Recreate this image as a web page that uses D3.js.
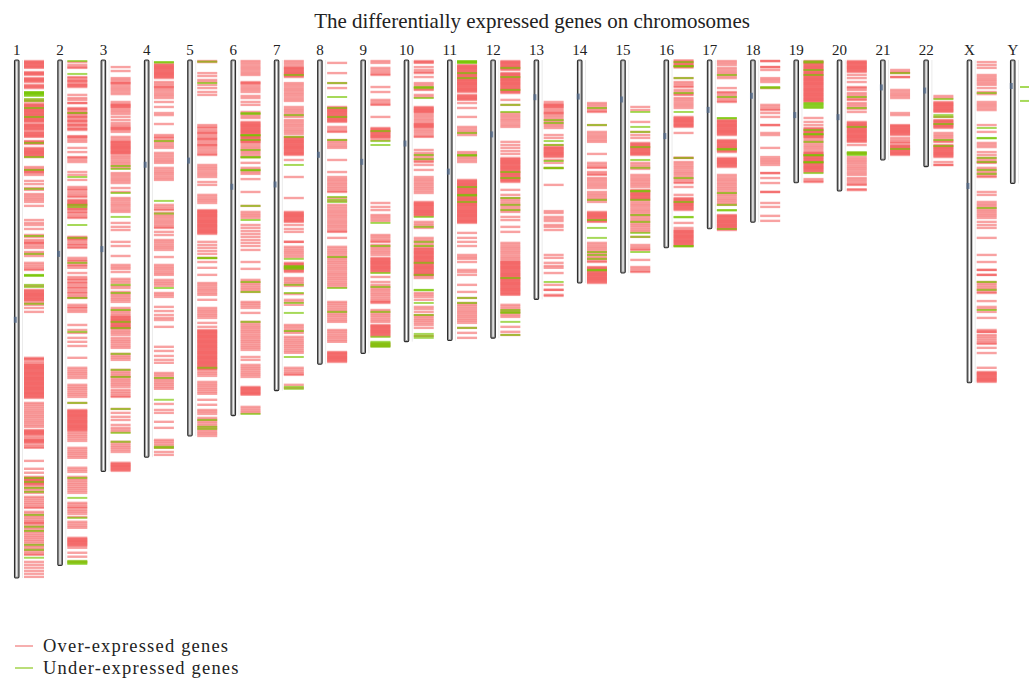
<!DOCTYPE html>
<html>
<head>
<meta charset="utf-8">
<script src="https://cdn.jsdelivr.net/npm/d3@7"></script>
<style>
  html, body { margin: 0; padding: 0; background: #fff; }
  svg { display: block; }
</style>
</head>
<body>
<svg id="chart" width="1029" height="679"></svg>
<script>
// Human chromosomes (hg19), lengths and centromere positions in Mb
const chromosomes = ["1","2","3","4","5","6","7","8","9","10","11","12","13","14","15","16","17","18","19","20","21","22","X","Y"];
const chromLengths = [249.25,243.2,198.0,191.15,180.9,171.1,159.1,146.4,141.2,135.5,135.0,133.85,115.2,107.3,102.5,90.35,81.2,78.1,59.1,63.0,48.1,51.3,155.3,59.4];
const centromeres = [125,93.3,91,50.4,48.4,61,59.9,45.6,49,40.2,53.7,35.8,17.9,17.6,19,36.6,24,17.2,26.5,27.5,13.2,14.7,60.6,12.5];

// Positions (Mb) of over-expressed genes, one list per chromosome
const overExpressed = [
  // 1
  [0.5,1.0,1.4,1.9,2.4,2.9,3.4,3.8,5.8,6.3,6.7,7.2,8.7,9.2,9.6,10.1,10.6,12.0,12.5,13.0,13.5,19.2,20.0,
   21.2,21.6,22.1,22.6,23.1,23.6,24.1,24.5,25.0,25.5,26.0,26.5,26.9,27.4,27.9,28.4,28.9,29.3,29.8,
   30.8,31.3,31.7,32.2,32.7,33.2,33.7,34.6,35.1,35.6,36.1,36.6,37.0,39.0,39.4,39.9,40.4,
   42.3,42.8,43.3,43.8,44.3,44.7,45.2,45.7,46.2,46.7,51.5,52.4,52.9,53.4,53.9,54.4,55.3,58.2,59.7,61.6,62.5,
   64.5,65.4,66.4,67.3,68.3,70.2,77.0,78.4,79.4,81.3,84.2,85.1,86.6,87.5,88.0,88.5,89.5,90.4,92.4,93.3,94.3,
   97.6,98.6,99.6,100.5,101.0,108.7,110.6,111.1,111.6,112.1,112.6,113.0,113.5,114.0,114.5,115.0,115.4,116.0,116.9,117.8,119.3,121.2,
   143.3,143.8,144.3,145.3,146.2,146.7,147.2,147.7,148.1,148.6,149.1,149.6,150.1,150.6,151.0,151.5,152.0,152.5,153.0,153.4,
   153.9,154.4,154.9,155.4,155.8,156.3,156.8,157.3,157.8,158.2,158.7,159.2,159.7,160.2,160.6,161.1,161.6,162.1,162.6,
   165.0,165.9,166.9,167.9,168.9,169.8,170.8,171.7,172.7,173.7,174.6,175.6,176.5,
   178.0,178.5,179.0,179.4,179.9,180.4,181.3,182.3,182.8,183.3,183.7,184.2,185.2,186.1,186.6,192.9,196.7,198.6,
   200.6,201.1,201.6,202.0,202.5,203.0,203.5,204.0,204.4,205.4,206.3,207.3,208.3,210.2,211.1,212.1,213.1,214.0,215.0,215.5,
   217.4,218.4,219.4,220.3,221.3,222.2,222.7,223.2,224.2,225.1,226.1,227.0,228.0,229.0,229.9,230.9,231.8,232.8,233.8,234.7,235.7,236.6,237.6,238.1,
   241.5,242.9,244.3,245.8,247.2,248.7],
  // 2
  [1.0,2.4,3.4,3.8,8.2,8.7,9.6,10.1,10.6,11.5,12.0,12.5,13.0,16.8,18.3,19.2,20.7,20.7,
   23.1,23.6,24.1,25.0,25.5,26.0,26.9,27.4,27.9,28.9,29.3,29.8,30.8,31.3,31.7,32.7,33.2,33.7,36.6,37.0,37.5,38.5,39.4,
   42.3,44.3,46.7,47.1,48.1,49.1,53.9,55.3,57.7,61.1,62.0,62.5,63.5,64.5,65.4,65.9,
   67.3,67.8,68.3,68.8,69.3,69.7,70.2,71.2,71.7,72.2,73.1,73.6,74.6,75.5,76.0,
   85.1,85.6,86.1,86.6,87.5,88.5,89.0,89.9,90.4,95.2,96.2,96.7,97.6,98.6,99.1,100.0,102.5,104.4,
   105.3,105.8,106.8,107.3,108.2,109.2,109.7,110.6,111.6,112.1,113.0,114.0,114.5,117.8,118.8,119.3,120.3,121.2,
   127.5,129.9,131.3,133.7,135.6,137.6,143.3,148.1,149.1,150.1,151.0,152.0,153.0,156.3,157.3,158.2,159.2,160.2,161.1,162.1,165.0,
   168.4,168.9,169.3,169.8,170.3,170.8,171.2,171.7,172.2,172.7,173.2,173.7,174.1,174.6,175.1,175.6,176.1,176.5,177.0,177.5,178.0,178.5,179.4,180.4,181.3,182.3,183.3,
   186.6,187.6,188.6,189.5,190.5,191.4,196.2,197.2,198.2,200.6,201.6,202.5,203.5,204.4,205.4,206.3,207.3,208.3,
   213.1,214.0,215.0,215.5,216.5,217.4,218.4,219.9,222.2,223.2,224.2,225.1,
   229.9,230.4,230.9,231.4,231.8,232.3,232.8,233.3,233.8,234.7,237.1,239.0,241.5],
  // 3
  [3.4,5.3,8.7,9.6,10.6,11.1,11.5,12.5,13.5,14.4,15.4,16.4,20.2,21.2,21.6,22.1,22.6,23.1,24.1,25.0,26.0,27.4,28.9,30.3,31.3,32.2,32.7,33.2,33.7,34.6,
   37.0,38.0,39.0,39.4,39.9,40.4,40.9,41.4,41.9,42.3,42.8,43.3,43.8,44.3,44.7,45.2,46.2,47.1,48.1,49.1,50.0,51.0,52.0,
   54.4,55.3,56.3,57.3,58.2,59.2,61.6,63.5,66.4,67.3,68.3,69.3,70.2,71.2,72.2,73.1,78.4,80.3,81.8,87.5,89.5,94.3,
   98.6,99.6,100.5,102.0,105.3,106.3,107.3,108.7,109.7,111.6,112.6,113.5,114.5,115.4,116.4,119.3,120.3,121.2,122.2,123.1,
   123.6,124.1,124.6,125.1,125.5,126.0,126.5,127.0,127.5,128.0,128.4,128.9,129.4,130.4,131.3,132.3,
   133.7,134.7,135.6,136.6,137.6,138.5,141.4,142.4,143.3,144.3,149.1,150.1,151.0,152.0,152.5,153.5,154.4,155.4,156.3,157.3,
   158.7,159.7,160.6,161.6,162.1,167.9,169.8,171.7,173.2,175.6,177.0,178.0,179.0,183.7,184.7,185.7,186.6,187.6,188.6,
   193.8,194.3,194.8,195.3,195.7,196.2,196.7,197.2,197.7],
  // 4
  [1.9,2.4,2.9,3.4,3.8,4.3,4.8,5.3,5.8,6.3,6.7,7.2,7.7,8.2,8.7,10.6,11.5,12.5,13.0,13.5,14.4,15.4,16.4,17.3,18.3,20.2,22.6,25.5,26.5,30.8,
   36.1,37.0,37.5,38.5,39.4,40.4,41.4,42.3,44.7,45.7,46.7,47.7,48.6,49.5,51.9,52.9,53.9,54.8,55.8,56.8,57.7,
   69.7,70.7,71.7,72.2,73.6,74.6,75.5,76.5,77.5,78.4,79.4,80.3,80.8,82.7,84.2,86.6,87.5,88.5,89.5,90.4,91.4,94.8,
   98.6,99.6,100.5,101.5,102.5,103.4,105.8,106.8,107.7,108.7,112.1,113.0,114.0,118.8,120.8,122.7,124.1,125.1,128.4,
   138.0,140.0,142.4,144.3,145.7,150.6,151.5,152.5,153.5,154.4,155.4,156.3,157.3,158.2,165.5,168.4,169.8,174.1,177.0,
   182.8,183.7,184.7,185.7,186.6,188.6,190.0],
  // 5
  [0.5,1.0,6.3,7.7,9.6,10.6,12.0,13.5,15.4,16.8,
   31.3,32.2,32.7,33.7,34.6,35.1,35.6,36.6,37.5,38.0,38.5,39.4,40.4,40.9,41.4,42.3,43.3,44.3,45.2,45.7,
   50.5,51.5,52.4,53.4,54.4,55.3,56.3,58.7,60.1,64.9,65.9,66.9,67.8,68.8,
   72.2,72.7,73.1,73.6,74.1,74.6,75.0,75.5,76.0,76.5,77.0,77.5,77.9,78.4,78.9,79.4,79.8,80.3,80.8,81.3,81.8,82.3,82.7,83.2,83.7,
   87.5,89.0,90.4,91.9,93.3,95.2,97.2,100.0,103.4,107.3,108.2,109.2,110.2,111.1,112.1,113.0,115.4,
   119.3,120.3,121.2,122.2,123.1,124.1,126.5,128.4,
   129.9,130.4,130.8,131.3,131.8,132.3,132.8,133.2,133.7,134.2,134.7,135.2,135.6,136.1,136.6,137.1,137.6,138.0,138.5,139.0,
   139.5,140.0,140.5,140.9,141.4,141.9,142.4,142.9,143.3,143.8,144.3,144.8,145.3,145.7,146.2,146.7,147.2,147.7,148.1,148.6,149.1,150.1,151.0,152.0,
   154.9,155.9,156.8,157.8,158.7,159.7,160.6,163.5,165.9,168.4,169.3,170.3,
   172.2,173.2,174.1,175.1,176.1,177.0,178.0,179.0,179.9,180.9],
  // 6
  [0.5,1.4,2.4,3.4,4.3,5.3,6.3,7.2,10.6,11.1,11.5,12.5,13.5,14.4,15.4,17.3,18.3,20.2,21.6,25.0,26.0,27.0,27.9,
   29.8,30.3,30.8,31.3,31.7,32.2,32.7,33.2,33.7,34.2,34.6,35.1,35.6,36.1,36.6,37.0,37.5,38.0,38.5,39.0,39.4,39.9,
   40.9,41.9,42.8,43.8,44.7,45.7,46.7,49.5,51.9,52.9,53.9,54.8,57.3,63.5,70.2,73.1,74.1,75.0,76.0,
   79.4,80.8,82.3,83.7,85.1,86.6,88.0,89.5,91.4,97.2,100.5,105.8,106.8,107.7,108.7,109.7,110.6,111.6,
   116.4,117.3,118.3,119.3,121.7,126.0,127.0,128.0,128.9,129.9,130.8,131.8,132.8,133.7,134.7,135.6,136.6,137.6,138.5,139.5,
   142.9,144.3,146.7,147.7,148.6,149.6,150.6,151.5,152.5,157.3,157.8,158.2,158.7,159.2,159.7,160.2,160.6,161.1,
   166.9,167.9,168.9,169.8],
  // 7
  [0.5,1.4,2.4,3.4,3.8,4.3,4.8,5.3,5.8,6.3,6.7,7.2,7.7,8.2,11.1,12.0,13.0,14.0,14.9,15.9,16.8,17.8,18.8,19.7,
   22.6,23.6,24.5,25.5,26.5,27.4,28.9,29.8,30.8,31.7,32.7,33.7,34.6,35.6,37.0,
   37.5,38.0,38.5,39.0,39.4,39.9,40.4,40.9,41.4,41.9,42.3,42.8,43.3,43.8,44.3,44.8,45.2,45.7,48.1,56.3,66.4,
   73.1,73.6,74.1,74.6,75.0,75.5,76.0,76.5,77.0,77.5,77.9,79.4,81.3,82.7,87.5,87.5,89.9,90.9,91.9,92.8,93.8,94.8,
   97.6,98.1,98.6,99.1,99.6,100.0,100.5,101.0,101.5,102.0,104.9,105.8,106.8,107.7,108.7,112.6,115.4,116.4,117.8,
   127.5,128.4,129.4,130.4,131.3,133.2,134.2,135.2,136.1,137.1,138.0,139.0,140.0,140.9,148.1,149.1,150.1,151.0,151.5,156.3,157.8],
  // 8
  [1.4,6.3,11.1,13.5,22.6,23.1,23.6,24.1,24.5,25.0,25.5,26.0,26.5,27.0,27.4,27.9,28.4,28.9,29.3,29.8,32.2,33.2,34.2,34.6,
   38.5,39.4,40.4,41.4,42.3,48.1,53.9,56.3,57.3,58.2,59.2,60.1,61.1,62.0,63.0,63.5,66.4,67.8,
   69.7,70.7,71.7,72.7,73.6,74.6,75.5,76.5,77.5,78.4,79.4,80.3,81.3,82.3,82.7,85.6,
   89.9,90.9,91.9,92.8,93.8,94.8,95.7,96.7,97.6,98.6,99.6,100.5,101.5,102.5,103.4,104.4,105.3,106.3,107.3,108.2,109.2,
   116.4,117.3,118.3,119.3,120.3,121.2,122.2,123.1,124.1,125.1,126.0,129.9,130.8,131.8,132.8,133.7,134.7,135.6,
   140.5,140.9,141.4,141.9,142.4,142.9,143.3,143.8,144.3,144.8,145.3],
  // 9
  [0.5,1.4,3.8,4.8,5.8,6.7,7.2,13.0,15.4,19.2,20.2,21.2,21.6,27.4,32.7,33.2,33.7,34.2,34.6,35.1,35.6,36.1,36.6,37.0,37.5,38.5,
   68.8,70.7,72.2,74.6,75.5,76.5,77.5,84.2,85.1,86.1,87.1,87.5,89.0,90.0,90.9,91.9,92.8,93.8,
   95.2,95.7,96.2,96.7,97.2,97.6,98.1,98.6,99.1,99.6,100.0,100.5,101.0,101.5,102.0,104.4,106.8,
   108.2,109.2,110.2,111.1,112.1,113.0,114.0,115.0,115.9,116.4,116.9,120.3,121.2,122.2,123.1,124.1,125.1,126.0,
   127.5,128.0,128.4,128.9,129.4,129.9,130.4,130.8,131.3,131.8,132.3,132.8,136.6,137.6],
  // 10
  [0.5,1.0,1.4,3.4,4.8,5.8,6.3,8.2,11.1,12.0,13.0,14.0,14.4,16.8,17.8,
   22.6,23.1,23.6,24.1,24.5,25.0,25.5,26.5,27.4,28.4,29.3,30.3,30.8,31.3,31.7,32.2,32.7,33.7,34.6,35.6,36.6,37.0,
   43.3,44.7,45.7,46.7,47.7,48.6,49.1,50.5,52.9,56.3,57.3,58.2,59.2,60.1,61.1,62.0,63.0,64.0,
   68.3,68.8,69.3,69.7,70.2,70.7,71.2,71.7,72.2,72.7,73.1,73.6,74.1,74.6,75.0,77.9,78.9,79.8,80.8,85.6,86.6,87.5,88.5,89.5,
   90.4,90.9,91.4,91.9,92.4,92.8,93.3,93.8,94.3,94.8,95.2,95.7,96.2,96.7,97.2,97.6,98.1,98.6,99.1,99.6,100.0,100.5,101.0,101.5,102.0,102.5,103.0,103.4,103.9,104.9,
   112.1,113.0,114.0,115.4,118.8,119.8,121.2,122.7,123.6,124.6,125.5,126.5,127.5,128.9,132.8],
  // 11
  [2.4,2.9,3.4,3.8,4.3,4.8,5.3,5.8,6.3,6.7,7.2,7.7,8.2,8.7,9.2,9.6,10.1,10.6,11.1,11.5,12.0,12.5,13.0,13.5,14.0,14.4,14.9,15.4,
   16.8,17.3,17.8,18.3,18.8,19.2,20.7,23.1,27.4,32.2,33.2,34.2,35.1,36.1,44.3,45.2,46.2,47.1,48.1,49.1,
   57.7,58.2,58.7,59.2,59.7,60.1,60.6,61.1,61.6,62.0,62.5,63.0,63.5,64.0,64.5,64.9,65.4,65.9,66.4,66.9,67.3,67.8,
   68.3,68.8,69.3,69.7,70.2,70.7,71.2,71.7,72.2,72.7,73.1,73.6,74.1,74.6,75.0,75.5,76.0,76.5,77.0,77.5,77.9,78.4,
   83.2,85.6,87.5,89.5,93.8,94.8,95.7,97.2,101.0,102.0,103.4,108.2,111.6,114.5,
   116.9,117.8,118.8,119.8,120.8,121.7,122.7,123.6,124.6,125.5,126.5,128.9,131.3,133.7],
  // 12
  [0.5,1.0,1.4,1.9,2.4,2.9,3.4,3.8,4.3,4.8,6.3,6.7,7.2,7.7,8.2,8.7,9.2,9.6,10.1,10.6,11.1,11.5,12.0,12.5,13.0,13.5,14.0,14.4,14.9,15.4,15.9,
   19.2,21.6,25.5,26.5,27.4,28.4,29.3,30.3,31.3,32.2,39.4,40.9,42.3,43.8,45.2,
   47.1,47.7,48.1,48.6,49.1,49.5,50.0,50.5,51.0,51.5,51.9,52.4,52.9,53.4,53.9,54.4,54.8,55.3,55.8,56.3,56.8,57.3,57.7,58.2,58.7,
   62.5,64.9,66.4,67.3,68.3,69.3,70.2,71.2,72.2,73.1,75.5,77.0,80.3,82.7,
   88.0,89.0,90.0,90.9,91.9,92.8,93.8,94.8,95.7,96.7,97.2,
   97.6,98.1,98.6,99.1,99.6,100.0,100.5,101.0,101.5,102.0,102.5,103.0,103.4,103.9,104.4,104.9,105.3,105.8,106.3,106.8,107.3,107.7,
   108.2,108.7,109.2,109.7,110.2,110.6,111.1,111.6,112.1,112.6,113.0,117.8,118.8,119.8,120.8,121.7,122.7,123.6,128.4,130.8,132.3],
  // 13
  [20.2,21.2,21.6,22.1,22.6,23.1,24.1,25.0,25.5,26.0,26.9,27.9,28.9,29.8,30.8,31.7,32.7,36.1,37.5,40.9,
   41.9,42.3,42.8,43.3,43.8,44.3,44.8,45.2,45.7,46.2,46.7,48.1,49.5,51.9,60.1,
   72.7,73.6,75.5,76.5,77.5,79.4,80.3,81.8,93.8,95.2,97.6,99.1,100.0,102.5,108.2,110.6,110.6,113.0,113.5],
  // 14
  [20.7,21.6,22.6,23.6,24.5,25.0,31.3,34.6,35.6,36.6,37.5,38.5,39.4,45.2,49.5,50.5,51.5,51.9,53.9,54.8,55.3,
   56.8,57.7,58.7,59.7,60.6,61.6,63.5,64.5,65.4,66.4,67.3,68.3,73.1,73.6,74.1,74.6,75.0,75.5,76.0,76.5,77.0,77.5,77.9,
   88.0,89.0,90.0,90.9,91.9,92.8,93.8,94.8,95.7,96.7,97.2,
   99.6,100.0,100.5,101.0,101.5,102.0,102.5,103.0,103.4,103.9,104.4,104.9,105.3,105.8,106.3,106.8,107.3],
  // 15
  [22.6,24.1,29.8,34.6,36.1,37.5,39.9,40.4,40.9,41.4,41.9,42.3,42.8,43.3,43.8,44.3,44.8,45.2,45.7,49.5,50.5,51.5,52.4,
   55.3,56.3,57.3,58.2,59.2,60.1,61.1,62.5,63.0,63.5,64.0,64.5,64.9,65.4,65.9,66.4,66.9,67.3,68.3,
   69.3,70.2,71.2,72.2,73.1,74.1,75.0,76.0,77.0,77.9,78.9,79.8,80.8,81.8,82.7,85.1,89.0,90.0,90.9,91.4,96.2,99.6,100.5,101.5,102.0],
  // 16
  [0.2,0.7,1.2,1.7,2.2,2.7,3.2,3.6,8.7,10.6,11.5,12.5,13.0,14.4,15.4,16.4,16.8,18.3,19.2,20.2,21.2,22.1,23.1,
   27.4,27.9,28.4,28.9,29.3,29.8,30.3,30.8,31.3,31.7,32.2,35.1,47.1,47.1,
   49.1,50.0,51.0,51.9,52.9,53.9,54.8,55.8,56.8,57.7,58.7,59.2,61.1,64.9,
   66.4,66.9,67.3,67.8,68.3,68.8,69.3,69.7,70.2,70.7,71.2,71.7,72.2,78.4,80.8,
   81.8,82.3,82.7,83.2,83.7,84.2,84.7,85.1,85.6,86.1,86.6,87.1,87.5,88.0,88.5,89.0,89.5],
  // 17
  [0.5,1.4,2.4,3.8,4.8,5.8,6.7,7.7,8.7,13.5,15.4,15.9,16.8,17.8,18.8,19.7,20.2,
   28.9,29.3,29.8,30.3,30.8,31.3,31.7,32.2,32.7,33.2,33.7,34.2,34.6,35.1,35.6,36.1,
   38.5,39.0,39.4,39.9,40.4,40.9,41.4,41.9,42.3,42.8,43.3,43.8,44.3,47.1,47.7,48.1,48.6,49.1,49.5,50.0,50.5,51.0,51.5,
   55.3,56.3,57.3,58.2,59.2,60.1,61.1,62.0,63.0,64.0,64.9,65.9,66.9,67.8,68.8,69.7,
   74.6,75.0,75.5,76.0,76.5,77.0,77.5,77.9,78.4,78.9,79.4,79.8,80.3,80.8,81.3,81.8],
  // 18
  [0.5,0.5,3.4,3.4,4.8,8.7,9.6,10.6,13.5,21.6,22.6,23.6,24.1,25.5,27.4,31.3,31.3,35.1,36.1,42.3,46.7,47.7,48.6,49.5,50.5,
   54.4,54.4,56.8,59.2,63.5,63.5,68.8,70.7,75.0,77.4],
  // 19
  [0.5,1.0,1.4,1.9,2.4,2.9,3.4,3.8,4.3,4.8,5.3,5.8,6.3,6.7,7.2,7.7,8.2,8.7,9.2,9.6,10.1,10.6,11.1,11.5,12.0,12.5,13.0,13.5,14.0,14.4,
   14.9,15.4,15.9,16.4,16.8,17.3,17.8,18.3,18.8,19.2,19.7,20.2,27.9,29.8,31.3,
   32.7,33.2,33.7,34.2,34.6,35.1,35.6,36.1,36.6,37.0,37.5,38.5,39.4,40.4,41.4,42.3,43.3,44.3,
   44.7,45.2,45.7,46.2,46.7,47.1,47.7,48.1,48.6,49.1,49.5,50.0,50.5,51.0,51.5,51.9,52.4,52.9,53.4,53.9,57.3,58.2,58.7],
  // 20
  [0.5,1.0,1.4,1.9,2.4,2.9,3.4,3.8,4.3,4.8,5.3,5.8,7.2,8.7,10.6,13.0,13.5,14.4,15.9,16.8,17.8,18.8,19.2,20.7,21.6,22.6,23.6,25.0,
   29.8,30.3,30.8,31.3,31.7,32.2,32.7,33.2,33.7,34.2,34.6,35.1,35.6,36.1,36.6,37.0,37.5,38.0,38.5,39.0,39.4,40.9,44.8,
   46.7,47.7,48.6,49.5,50.5,51.5,52.4,53.4,54.4,55.3,56.8,57.7,58.7,59.7,60.1,62.2,62.6],
  // 21
  [4.8,5.8,6.3,8.2,8.2,14.4,15.4,16.4,17.3,18.3,25.5,26.5,31.3,31.7,32.2,32.7,33.2,33.7,34.2,34.6,35.1,35.6,36.1,
   37.5,38.5,39.4,39.9,40.9,41.4,41.9,42.3,42.8,43.3,43.8,44.3,44.8,45.2,45.7],
  // 22
  [17.3,18.3,20.2,20.7,21.2,21.6,22.1,22.6,23.1,23.6,24.1,24.5,25.0,27.4,28.9,29.3,29.8,30.3,30.8,31.3,31.7,32.2,32.7,
   35.1,36.1,37.0,38.0,39.0,39.4,40.9,41.4,41.9,42.3,42.8,43.3,43.8,44.3,44.8,45.2,45.7,46.2,46.7,49.1,50.5,50.5],
  // X
  [1.0,2.4,3.8,7.2,8.2,9.2,10.1,11.1,12.0,13.5,15.4,16.4,20.2,21.2,22.1,23.1,24.1,31.3,34.6,39.9,40.9,41.9,44.3,45.7,
   47.1,48.1,49.1,49.5,51.9,52.9,53.9,54.8,55.8,56.3,63.5,64.9,68.3,69.3,70.2,71.2,72.2,73.1,74.1,75.0,76.0,77.9,79.4,80.8,
   85.6,93.8,97.2,101.0,101.0,103.4,103.4,106.8,107.7,108.7,109.7,110.6,111.6,112.1,116.0,118.8,119.8,121.2,124.1,
   129.9,130.8,130.8,132.3,133.2,134.2,135.2,136.1,136.6,138.5,141.0,148.1,150.1,
   150.6,151.0,151.5,152.0,152.5,153.0,153.5,153.9,154.4,154.9],
  // Y
  []
];

// Positions (Mb) of under-expressed genes, one list per chromosome
const underExpressed = [
  [15.4,15.6,15.9,16.1,16.4,16.8,17.3,18.8,19.7,23.1,27.4,39.9,46.7,52.9,62.0,84.7,93.3,103.4,103.6,103.9,108.2,109.2,117.3,
   201.1,203.0,205.9,207.8,218.9,224.6,226.6,233.3,235.7,239.5],
  [0.5,6.7,25.5,56.3,69.7,70.7,79.4,85.6,97.6,114.5,130.8,165.0,201.1,210.7,220.3,241.0,241.5,242.0,242.5],
  [51.0,52.4,64.0,75.5,108.2,112.1,120.3,126.0,129.0,141.4,149.1,152.5,167.9,179.4,183.7],
  [1.0,1.2,39.0,67.8,73.9,109.7,153.0,163.5,186.1,186.6],
  [0.8,11.1,95.2,95.4,148.1,173.2,176.5,177.5],
  [25.5,26.0,36.1,36.3,38.5,43.3,46.7,46.9,52.9,53.1,70.2,77.0,106.8,111.6,126.0,170.3],
  [7.2,26.5,37.0,50.5,95.7,99.1,99.6,100.0,100.5,108.2,112.1,116.9,121.7,130.4,142.9,157.3,158.2],
  [11.1,17.8,23.1,27.4,38.5,65.9,67.3,68.3,94.8,109.7,121.2],
  [34.2,39.0,40.9,78.4,89.5,102.5,109.2,121.2,133.2,135.6,136.1,136.6,137.1,137.6,138.0],
  [13.0,13.5,18.3,45.7,47.7,75.5,80.3,87.5,89.5,97.6,103.4,110.6,110.8,116.9,122.7,131.8,132.8,133.7],
  [0.5,0.7,1.0,1.2,1.4,6.3,8.7,35.1,45.7,46.0,61.1,64.9,65.2,68.3,114.5,116.9,128.9],
  [3.8,8.2,14.4,21.6,25.0,53.9,56.8,66.4,69.7,72.2,104.9,120.3,121.2,121.7,126.0,132.3],
  [28.9,30.3,39.0,40.9,48.6,51.9,52.1,106.8],
  [23.1,31.3,67.3,77.0,80.8,85.6,92.4,93.8,95.7,101.0,101.2],
  [25.0,32.2,34.6,41.9,48.1,51.9,63.0,63.2,67.3,74.6,77.9,83.2,85.1,92.4],
  [1.0,2.9,3.1,8.7,15.9,25.0,47.1,56.8,68.3,75.5,75.7,89.5,89.7],
  [7.2,17.8,27.9,28.1,42.8,43.1,64.0,69.7,72.2,72.4,81.3],
  [13.0,13.5],
  [0.7,1.2,4.8,7.2,20.7,21.2,21.6,22.1,22.6,23.1,33.7,35.6,35.8,39.4,45.7,45.9,49.1,49.3,54.4],
  [17.8,23.1,32.2,44.3,44.8,45.2,45.7],
  [6.3,42.8],
  [18.8,26.5,27.4,30.8,38.5,41.4],
  [15.9,32.7,37.5,37.7,47.1,49.1,52.9,54.8,71.2,106.8,110.6,120.3],
  [13.0,19.7]
];

const titleText = "The differentially expressed genes on chromosomes";
const legendItems = [
  { label: "Over-expressed genes", key: "over" },
  { label: "Under-expressed genes", key: "under" }
];

const colors = { over: "rgb(242,70,70)", under: "rgb(118,196,0)" };

const svg = d3.select("#chart");
const serif = "'Liberation Serif', 'DejaVu Serif', serif";

// soft edges on the gene marks
const defs = svg.append("defs");
defs.append("filter").attr("id", "soft")
  .attr("x", "-5%").attr("y", "-5%").attr("width", "110%").attr("height", "110%")
  .append("feGaussianBlur").attr("stdDeviation", 0.45);

const x = d3.scalePoint().domain(chromosomes).range([14, 1010]);
const y = d3.scaleLinear().domain([0, 249.25]).range([60, 578]);

// Title, fitted to its measured width
const title = svg.append("text")
  .attr("x", 532).attr("y", 28)
  .attr("text-anchor", "middle")
  .attr("font-family", serif)
  .attr("font-size", 20)
  .attr("fill", "#222")
  .text(titleText);
const tw = title.node().getComputedTextLength();
title.attr("font-size", 20 * 436 / tw);

const chrom = svg.selectAll("g.chrom")
  .data(chromosomes.map((c, i) => ({
    name: c, len: chromLengths[i], cen: centromeres[i],
    over: overExpressed[i], under: underExpressed[i]
  })))
  .join("g")
  .attr("class", "chrom")
  .attr("transform", d => `translate(${x(d.name)},0)`);

// faint guide line beside each chromosome
chrom.append("line")
  .attr("x1", 8.5).attr("x2", 8.5)
  .attr("y1", y(0)).attr("y2", d => y(d.len))
  .attr("stroke", "#ebebeb").attr("stroke-width", 1);

// gene marks
const genes = chrom.append("g").attr("filter", "url(#soft)");
genes.selectAll("line.over")
  .data(d => d.over)
  .join("line")
  .attr("class", "over")
  .attr("x1", 10).attr("x2", 30)
  .attr("y1", d => y(d)).attr("y2", d => y(d))
  .attr("stroke", colors.over)
  .attr("stroke-opacity", 0.5)
  .attr("stroke-width", 2.4);
genes.selectAll("line.under")
  .data(d => d.under)
  .join("line")
  .attr("class", "under")
  .attr("x1", 10).attr("x2", 30)
  .attr("y1", d => y(d)).attr("y2", d => y(d))
  .attr("stroke", colors.under)
  .attr("stroke-opacity", 0.65)
  .attr("stroke-width", 2);

// chromosome body
chrom.append("rect")
  .attr("x", 0.5).attr("y", y(0))
  .attr("width", 4.5).attr("height", d => y(d.len) - y(0))
  .attr("rx", 1.2)
  .attr("fill", "#a0a0a0")
  .attr("stroke", "#2e2e2e").attr("stroke-width", 1.1);
chrom.append("rect")
  .attr("x", 2.2).attr("y", y(0) + 1.5)
  .attr("width", 1.1).attr("height", d => y(d.len) - y(0) - 3)
  .attr("fill", "#fff");

// centromere marker
chrom.append("rect")
  .attr("x", -0.2).attr("y", d => y(d.cen) - 3)
  .attr("width", 3).attr("height", 6)
  .attr("fill", "#50688a").attr("opacity", 0.75);

// chromosome names
chrom.append("text")
  .attr("x", 2.8).attr("y", 55)
  .attr("text-anchor", "middle")
  .attr("font-family", serif)
  .attr("font-size", 15)
  .attr("fill", "#222")
  .text(d => d.name);

// legend
const legend = svg.append("g").attr("transform", "translate(15,646)");
const li = legend.selectAll("g").data(legendItems).join("g")
  .attr("transform", (d, i) => `translate(0,${i * 22})`);
li.append("line")
  .attr("x1", 0).attr("x2", 18).attr("y1", 0).attr("y2", 0)
  .attr("stroke", d => d.key === "over" ? "#f07a7a" : "#8cc820")
  .attr("stroke-width", 1.2);
const lt = li.append("text")
  .attr("x", 28).attr("y", 6)
  .attr("font-family", serif)
  .attr("font-size", 18.5)
  .attr("fill", "#222")
  .text(d => d.label);
// widen the letter spacing so the first label spans its full width
const lw = lt.nodes()[0].getComputedTextLength();
const nChars = legendItems[0].label.length;
lt.attr("letter-spacing", Math.max(0, (185 - lw) / (nChars - 1)));
</script>
</body>
</html>
